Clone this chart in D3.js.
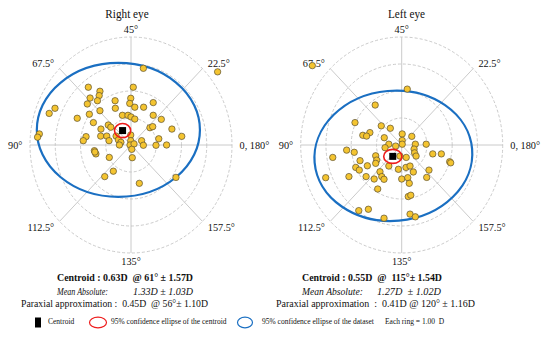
<!DOCTYPE html>
<html>
<head>
<meta charset="utf-8">
<title>Astigmatism vectors</title>
<script src="https://d3js.org/d3.v7.min.js"></script>
<style>
  body { margin: 0; background: #fff; }
  svg text { font-family: "Liberation Serif", "Times New Roman", serif; fill: #111; white-space: pre; }
</style>
</head>
<body>
<script>
// ring values (D) and angle labels
var ringValues = [1, 2, 3, 4];
var spokeAngles = [0, 45, 90, 135, 180, 225, 270, 315];
var angleLabels = ["0, 180°", "22.5°", "45°", "67.5°", "90°", "112.5°", "135°", "157.5°"];
var eyeTitles = ["Right eye", "Left eye"];

// vector components of each eye (D)
var rightX = [0.49, 3.43, 0.09, -1.69, -1.23, -1.26, -1.62, -1.33, -0.63, -0.01, -0.05, 0.88, -1.73, 0.50, 0.15,
  -0.62, -1.23, -3.01, -3.24, -1.65, -0.34, -0.12, 0.00, 0.15, 0.88, 1.20, -2.13, -1.49, -0.90, -0.80,
  -1.19, 0.75, 0.86, 1.62, 2.01, -3.63, -3.70, -1.78, -1.89, -1.20, -0.96, -0.87, -0.59, -0.50, -0.40,
  -0.46, -0.01, -0.01, -0.04, 0.12, 0.42, 0.49, 1.10, 0.99, 1.41, -1.45, -1.39, -0.86, 0.03, 0.05,
  -0.70, -1.04, 1.78, 0.33, -1.43];
var rightY = [2.84, 2.71, 2.14, 2.14, 1.99, 1.83, 1.74, 1.64, 1.64, 1.73, 1.54, 1.57, 1.52, 1.40, 1.40,
  1.36, 1.27, 1.36, 1.17, 1.14, 1.10, 1.10, 1.04, 0.96, 1.10, 0.95, 0.99, 0.83, 0.74, 0.66,
  0.59, 0.64, 0.68, 0.59, 0.32, 0.41, 0.29, 0.31, 0.16, 0.33, 0.33, 0.16, 0.33, 0.19, 0.10,
  0.00, 0.37, 0.16, 0.00, 0.04, 0.16, -0.01, 0.23, -0.01, 0.00, -0.21, -0.33, -0.46, -0.16, -0.47,
  -0.97, -1.17, -1.20, -1.42, -0.26];
var leftX = [-3.54, 0.22, -1.05, -1.85, -0.81, -0.45, -1.26, -1.54, -1.39, 0.02, 0.40, -0.69, 0.02, 0.02, -0.51,
  -0.24, 0.54, 0.97, -0.66, -2.18, -1.88, 0.49, 0.51, 0.57, 0.18, -0.07, 1.23, 1.57, -2.73, -1.65,
  -1.03, -0.99, -1.03, -1.36, -1.82, -1.68, -0.51, -0.13, 0.17, 0.33, 0.46, -0.86, -2.09, -1.41, -0.79,
  -0.70, -1.09, 0.00, 0.24, 0.30, 0.99, 1.08, 1.90, 1.94, -0.95, 0.26, 0.36, -1.70, -1.32, -0.70,
  0.33, 0.54, -3.01];
var leftY = [2.94, 2.07, 1.48, 0.83, 0.71, 0.62, 0.46, 0.36, 0.33, 0.41, 0.32, 0.27, 0.17, 0.03, 0.03,
  -0.04, 0.03, 0.03, -0.10, -0.19, -0.27, -0.15, -0.29, -0.41, -0.46, -0.41, -0.33, -0.33, -0.46, -0.58,
  -0.40, -0.56, -0.68, -0.77, -0.83, -0.93, -0.78, -0.90, -0.83, -0.78, -1.00, -0.99, -1.17, -1.17, -1.17,
  -1.27, -1.26, -1.26, -1.21, -1.42, -1.20, -0.93, -0.62, -0.66, -1.63, -1.91, -1.86, -2.43, -2.38, -2.71,
  -2.56, -2.66, -1.21];

// centroid (magnitude D, axis deg)
var centroidMag = [0.63, 0.55];
var centroidAxis = [61, 115];
// 95% ellipses [centre x, centre y, semi x, semi y, tilt deg] in D
var dataEllipse = [[-0.50, 0.56, 3.23, 2.48, 0], [-0.33, -0.40, 3.13, 2.41, 5]];
var centroidEllipse = [[0.32, 0.26], [0.36, 0.26]];

// stats text
var centroidText = ["Centroid : 0.63D  @ 61° ± 1.57D", "Centroid : 0.55D  @  115°± 1.54D"];
var meanLabel = "Mean Absolute:";
var meanValue = ["1.33D ± 1.03D", "1.27D  ± 1.02D"];
var paraxialText = ["Paraxial approximation :  0.45D  @ 56°± 1.10D", "Paraxial approximation  :  0.41D @ 120° ± 1.16D"];
var legendLabels = ["Centroid", "95% confidence ellipse of the centroid", "95% confidence ellipse of the dataset", "Each ring = 1.00  D"];

var W = 550, H = 337;
var svg = d3.select("body").append("svg").attr("width", W).attr("height", H);

var blue = "#1a6fc2", red = "#ee1c1c", grid = "#c4c4c4";
var squeeze = 0.935; // the figure is a little narrower than tall

function squish(sel) {
  sel.attr("transform", function () {
    var x = +d3.select(this).attr("x");
    return "translate(" + x + ",0) scale(" + squeeze + ",1) translate(" + (-x) + ",0)";
  });
}

function fitText(g, txt, x, y, len, style) {
  var t = g.append("text").attr("x", x).attr("y", y)
    .attr("textLength", len).attr("lengthAdjust", "spacingAndGlyphs")
    .style("font-size", "11px").text(txt);
  if (style) t.style(style[0], style[1]);
  return t;
}

function drawEye(i, cx, cy, xs, ys, titleX, tx) {
  var x = d3.scaleLinear().domain([-4, 4]).range([cx - 101, cx + 101]);
  var y = d3.scaleLinear().domain([-4, 4]).range([cy + 108, cy - 108]);
  var g = svg.append("g");
  var sx = function (v) { return x(v) - x(0); };
  var sy = function (v) { return y(0) - y(v); };

  g.append("text").attr("x", titleX).attr("y", 18).attr("text-anchor", "middle")
    .style("font-size", "12px").text(eyeTitles[i]).call(squish);

  g.selectAll(".ring").data(ringValues).enter().append("ellipse")
    .attr("cx", x(0)).attr("cy", y(0))
    .attr("rx", function (d) { return sx(d); })
    .attr("ry", function (d) { return sy(d); })
    .attr("fill", "none").attr("stroke", grid).attr("stroke-width", 0.9)
    .attr("stroke-dasharray", "3,2");

  var rMax = d3.max(ringValues);
  g.selectAll(".spoke").data(spokeAngles).enter().append("line")
    .attr("x1", x(0)).attr("y1", y(0))
    .attr("x2", function (d) { return x(rMax * Math.cos(d * Math.PI / 180)); })
    .attr("y2", function (d) { return y(rMax * Math.sin(d * Math.PI / 180)); })
    .attr("stroke", grid).attr("stroke-width", 0.9);

  var rl = 4.3;
  g.selectAll(".alab").data(spokeAngles).enter().append("text")
    .attr("x", function (d) { return x(rl * Math.cos(d * Math.PI / 180)); })
    .attr("y", function (d) { return y(rl * Math.sin(d * Math.PI / 180)); })
    .attr("dy", "0.35em")
    .attr("text-anchor", function (d) {
      var c = Math.cos(d * Math.PI / 180);
      return Math.abs(c) < 0.01 ? "middle" : (c > 0 ? "start" : "end");
    })
    .style("font-size", "11px")
    .text(function (d, j) { return angleLabels[j]; })
    .call(squish);

  var e = dataEllipse[i];
  g.append("ellipse")
    .attr("cx", x(e[0])).attr("cy", y(e[1]))
    .attr("rx", sx(e[2])).attr("ry", sy(e[3]))
    .attr("transform", "rotate(" + (-e[4]) + "," + x(e[0]) + "," + y(e[1]) + ")")
    .attr("fill", "none").attr("stroke", blue).attr("stroke-width", 2.2);

  g.selectAll(".pt").data(xs).enter().append("circle")
    .attr("cx", function (d) { return x(d); })
    .attr("cy", function (d, j) { return y(ys[j]); })
    .attr("r", 3.2)
    .attr("fill", "#f4c430").attr("stroke", "#5b5030").attr("stroke-width", 0.7);

  var a = 2 * centroidAxis[i] * Math.PI / 180;
  var ccx = x(centroidMag[i] * Math.cos(a)), ccy = y(centroidMag[i] * Math.sin(a));
  g.append("ellipse").attr("cx", ccx).attr("cy", ccy)
    .attr("rx", sx(centroidEllipse[i][0])).attr("ry", sy(centroidEllipse[i][1]))
    .attr("fill", "none").attr("stroke", red).attr("stroke-width", 1.6);
  g.append("rect").attr("x", ccx - 3.5).attr("y", ccy - 3.5)
    .attr("width", 7).attr("height", 7).attr("fill", "#000");

  // stats under the plot: [x, width] pairs
  fitText(g, centroidText[i], tx[0][0], 281, tx[0][1], ["font-weight", "bold"]);
  fitText(g, meanLabel, tx[1][0], 294.5, tx[1][1], ["font-style", "italic"]);
  fitText(g, meanValue[i], tx[2][0], 294.5, tx[2][1], ["font-style", "italic"]);
  fitText(g, paraxialText[i], tx[3][0], 306.5, tx[3][1]);
}

drawEye(0, 131, 145, rightX, rightY, 127, [[57, 136], [57, 51], [133, 60], [21, 187]]);
drawEye(1, 401.7, 145, leftX, leftY, 406.5, [[302, 140], [302, 61], [377, 64], [276, 199]]);

// legend
var lg = svg.append("g").style("font-size", "7.5px");
lg.append("rect").attr("x", 35).attr("y", 317.5).attr("width", 6).attr("height", 10).attr("fill", "#000");
lg.append("text").attr("x", 48).attr("y", 324).text(legendLabels[0]);
lg.append("ellipse").attr("cx", 98).attr("cy", 322.5).attr("rx", 8.5).attr("ry", 5.3)
  .attr("fill", "none").attr("stroke", red).attr("stroke-width", 1.2);
lg.append("text").attr("x", 111).attr("y", 324).text(legendLabels[1]);
lg.append("ellipse").attr("cx", 245).attr("cy", 322.5).attr("rx", 7.5).attr("ry", 5.3)
  .attr("fill", "none").attr("stroke", blue).attr("stroke-width", 1.2);
lg.append("text").attr("x", 262).attr("y", 324).text(legendLabels[2]);
lg.append("text").attr("x", 385).attr("y", 324).text(legendLabels[3]);
</script>
</body>
</html>
